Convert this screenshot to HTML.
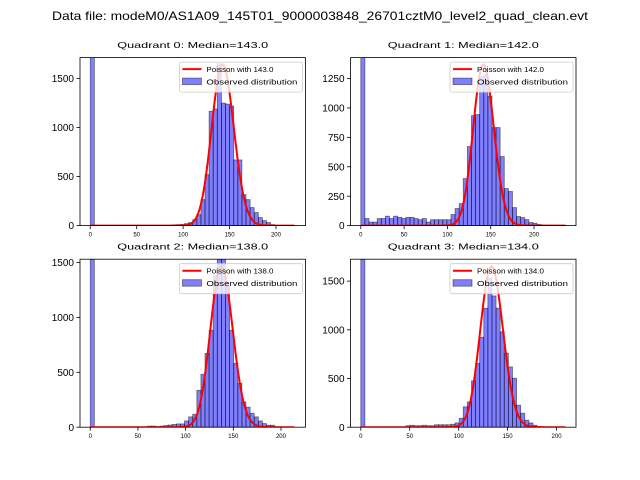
<!DOCTYPE html>
<html><head><meta charset="utf-8"><style>
body{margin:0;background:#fff}
svg{display:block;font-family:"Liberation Sans","DejaVu Sans",sans-serif}
</style></head><body>
<svg id="fig" width="640" height="480" viewBox="0 0 640 480">
<rect width="640" height="480" fill="#fff"/>
<text x="320" y="20" text-anchor="middle" font-size="12" textLength="536" lengthAdjust="spacingAndGlyphs">Data file: modeM0/AS1A09_145T01_9000003848_26701cztM0_level2_quad_clean.evt</text>
</svg>
<script>
// per-quadrant data
const titles = ["Quadrant 0: Median=143.0","Quadrant 1: Median=142.0","Quadrant 2: Median=138.0","Quadrant 3: Median=134.0"];
const medians = [143.0, 142.0, 138.0, 134.0];
const dataMax = [220.7, 236.6, 214.9, 209.4];
const yMax = [1714, 1428, 1530, 1725];
const curvePeak = [1643, 1369, 1464, 1650];
const yTicks0 = [0, 500, 1000, 1500];
const yTicks1 = [0, 250, 500, 750, 1000, 1250];
const yTicks2 = [0, 500, 1000, 1500];
const yTicks3 = [0, 500, 1000, 1500];
const xTicks = [0, 50, 100, 150, 200];
const counts0 = [3000,0,0,0,0,0,0,0,0,0,0,0,0,0,0,0,0,0,0,0,8,10,12,20,31,61,112,265,520,1166,1190,1650,1250,1240,1220,670,670,316,265,184,133,82,51,31,10,0,0,0,0,0];
const counts1 = [3000,60,30,30,60,60,80,60,80,70,60,70,70,60,50,60,30,50,50,50,50,50,94,145,187,400,672,935,944,1267,1284,1100,833,833,587,315,290,153,77,68,51,26,20,10,5,3,3,3,3,3];
const counts2 = [3000,0,0,0,0,0,0,0,0,0,0,0,0,0,10,10,5,10,15,20,25,30,30,57,94,118,336,482,672,882,1380,1600,1600,1290,882,582,400,230,182,127,94,57,33,18,18,5,0,0,0,0];
const counts3 = [3000,0,0,0,0,0,0,0,0,0,0,15,20,15,15,20,15,15,25,25,25,25,30,44,92,209,260,476,656,924,1222,1530,1348,1222,979,760,619,503,226,144,72,44,20,5,0,0,0,0,0,0];

const allCounts=[counts0,counts1,counts2,counts3];
const allYTicks=[yTicks0,yTicks1,yTicks2,yTicks3];
const NS="http://www.w3.org/2000/svg";
const svg=document.getElementById('fig');
function mk(tag,attrs,parent){const e=document.createElementNS(NS,tag);for(const k in attrs)e.setAttribute(k,attrs[k]);(parent||svg).appendChild(e);return e;}
const axW=225.45, axH=168;
const lefts=[80,350.55,80,350.55], tops=[57.6,57.6,259.2,259.2];
function lnfact(k){let s=0;for(let i=2;i<=k;i++)s+=Math.log(i);return s;}
function logpmf(k,l){return k*Math.log(l)-l-lnfact(k);}

for(let q=0;q<4;q++){
  const L=lefts[q],T=tops[q],R=dataMax[q],YM=yMax[q];
  const xmin=-0.05*R,xmax=1.05*R;
  const sx=v=>L+(v-xmin)/(xmax-xmin)*axW;
  const sy=v=>T+axH-v/YM*axH;
  const g=mk('g',{});
  
  
  const cp=mk('clipPath',{id:'clip'+q},g);
  mk('rect',{x:L,y:T,width:axW,height:axH},cp);
  const plot=mk('g',{'clip-path':'url(#clip'+q+')'},g);
  const cnt=allCounts[q],bw=R/cnt.length;
  cnt.forEach((c,i)=>{
    if(c<=0)return;
    const r=mk('rect',{x:sx(i*bw),y:sy(c),width:sx((i+1)*bw)-sx(i*bw),height:sy(0)-sy(c),fill:'rgba(0,0,255,0.5)',stroke:'rgba(0,0,0,0.5)','stroke-width':0.8},plot);
    
    
  });
  const lam=medians[q],ref=logpmf(Math.round(lam),lam);
  let d='';
  for(let k=0;k<=Math.floor(R);k++){
    const v=curvePeak[q]*Math.exp(logpmf(k,lam)-ref);
    d+=(k?'L':'M')+sx(k).toFixed(2)+','+sy(v).toFixed(2);
  }
  const pc=mk('path',{d:d,fill:'none',stroke:'#ff0000','stroke-width':2},plot);
  
  
  mk('rect',{x:L,y:T,width:axW,height:axH,fill:'none',stroke:'#000','stroke-width':0.8},g);
  xTicks.forEach(t=>{
    if(t>xmax)return;
    const x=sx(t);
    mk('line',{x1:x,x2:x,y1:T+axH,y2:T+axH+3.5,stroke:'#000','stroke-width':0.8},g);
    const tx=mk('text',{x:x,y:T+axH+11,'font-size':6,'text-anchor':'middle'},g);
    tx.textContent=t;
    
    
  });
  allYTicks[q].forEach(t=>{
    const y=sy(t);
    mk('line',{x1:L-3.5,x2:L,y1:y,y2:y,stroke:'#000','stroke-width':0.8},g);
    const tx=mk('text',{x:L-6,y:y+3.6,'font-size':10,'text-anchor':'end'},g);
    tx.textContent=t;
    
    
  });
  const tt=mk('text',{x:L+axW/2,y:T-9.5,'font-size':8.5,'text-anchor':'middle',textLength:151,lengthAdjust:'spacingAndGlyphs'},g);
  tt.textContent=titles[q];
  
  
  const lg=mk('g',{},g);
  
  
  const lx=L+axW-126, ly=T+4.5;
  mk('rect',{x:lx,y:ly,width:123,height:30,rx:2,fill:'rgba(255,255,255,0.8)',stroke:'#ccc','stroke-width':0.8},lg);
  mk('line',{x1:lx+3,x2:lx+22,y1:ly+7,y2:ly+7,stroke:'#ff0000','stroke-width':2},lg);
  mk('rect',{x:lx+3,y:ly+16,width:19,height:6.5,fill:'rgba(0,0,255,0.5)',stroke:'rgba(0,0,0,0.5)','stroke-width':0.8},lg);
  const t1=mk('text',{x:lx+27,y:ly+10,'font-size':7,textLength:67,lengthAdjust:'spacingAndGlyphs'},lg);
  t1.textContent='Poisson with '+medians[q].toFixed(1);
  
  
  const t2=mk('text',{x:lx+27,y:ly+22.5,'font-size':7,textLength:91,lengthAdjust:'spacingAndGlyphs'},lg);
  t2.textContent='Observed distribution';
  
  
}
</script>
</body></html>
